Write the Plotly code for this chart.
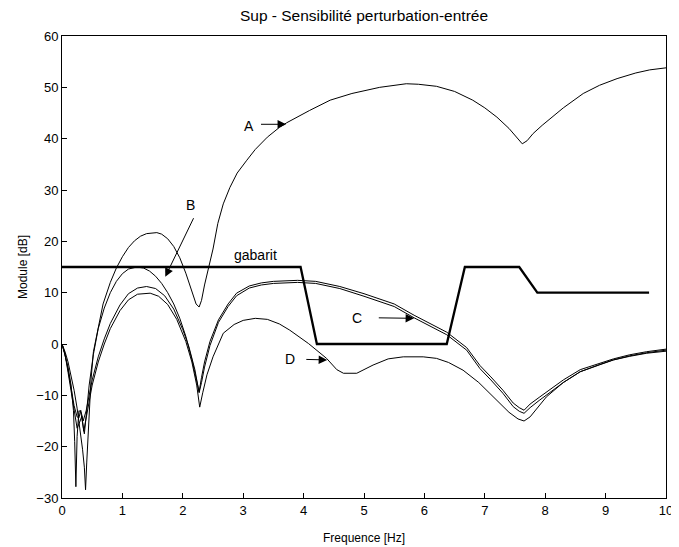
import plotly.graph_objects as go

# ---- data (frequency [Hz], module [dB]) ----
A_f = [0, 0.05, 0.1, 0.15, 0.2, 0.25, 0.3, 0.34, 0.37, 0.39, 0.41, 0.44, 0.48, 0.52, 0.6, 0.68, 0.8, 0.9, 1.0,
       1.1, 1.2, 1.3, 1.4, 1.5, 1.57, 1.65, 1.75, 1.85, 1.95, 2.05, 2.15, 2.22, 2.27, 2.31, 2.36, 2.42, 2.5,
       2.58, 2.67, 2.78, 2.9, 3.06, 3.2, 3.4, 3.6, 3.72, 3.9, 4.1, 4.44, 4.8, 5.26, 5.5, 5.7, 5.9, 6.2, 6.5,
       6.8, 7.0, 7.2, 7.4, 7.52, 7.62, 7.7, 7.8, 7.95, 8.08, 8.3, 8.63, 8.9, 9.19, 9.5, 9.73, 10]
A_db = [0, -1.5, -3.5, -6, -9, -12.5, -16.5, -20.5, -24, -28.4, -23, -15, -7, -1.5, 3.5, 7.8, 12, 14.8, 17,
        18.8, 20.1, 21, 21.5, 21.7, 21.7, 21.4, 20.5, 19, 16.8, 13.8, 10.2, 7.8, 7.2, 8.5, 11.5, 14.5, 18.5,
        23.5, 27.3, 30.5, 33.3, 35.8, 37.9, 40.3, 42.2, 43.1, 44.3, 45.5, 47.5, 48.8, 50, 50.4, 50.7, 50.6,
        50.2, 49.2, 47.5, 46, 44.2, 42, 40.3, 39, 39.6, 41, 42.6, 43.8, 46, 48.8, 50.4, 51.7, 52.8, 53.4, 53.8]

B_f = [0, 0.05, 0.1, 0.15, 0.19, 0.21, 0.23, 0.25, 0.28, 0.31, 0.34, 0.37, 0.4, 0.45, 0.52, 0.6, 0.7, 0.8,
       0.9, 1.0, 1.1, 1.24, 1.35, 1.45, 1.55, 1.65, 1.75, 1.85, 1.95, 2.05, 2.15, 2.22, 2.27, 2.31, 2.36,
       2.45, 2.59, 2.75, 2.89, 3.1, 3.3, 3.5, 3.9, 4.2, 4.6, 5.0, 5.26, 5.5, 5.83, 6.1, 6.37, 6.7, 6.92,
       7.1, 7.3, 7.47, 7.57, 7.65, 7.75, 7.9, 8.02, 8.3, 8.58, 8.9, 9.13, 9.4, 9.68, 10]
B_db = [0, -2, -4.5, -8, -13, -19, -27.8, -18, -13, -13.2, -15, -17.5, -14, -8, -2, 3, 7, 10, 12.2, 13.7,
        14.6, 15, 14.8, 14.2, 13.2, 11.8, 10, 7.8, 5, 1.5, -3, -6.5, -9.3, -6.5, -3.5, 0.5, 4.7, 7.8, 9.9,
        11.3, 11.9, 12.2, 12.4, 12.2, 11.2, 9.8, 8.8, 7.8, 5.6, 3.9, 2.3, -0.7, -4.2, -6.4, -9.0, -11.5,
        -12.4, -12.9, -11.7, -10.4, -9.4, -7, -5, -3.7, -2.9, -2.1, -1.5, -1.0]

C_f = [0, 0.05, 0.1, 0.15, 0.2, 0.25, 0.28, 0.31, 0.35, 0.4, 0.45, 0.5, 0.6, 0.7, 0.8, 0.96, 1.1, 1.25,
       1.4, 1.55, 1.7, 1.85, 2.0, 2.1, 2.2, 2.27, 2.31, 2.36, 2.45, 2.59, 2.75, 2.89, 3.1, 3.3, 3.5, 3.9,
       4.2, 4.6, 5.0, 5.26, 5.5, 5.83, 6.1, 6.37, 6.7, 6.92, 7.1, 7.3, 7.47, 7.57, 7.65, 7.75, 7.9, 8.02,
       8.3, 8.58, 8.9, 9.13, 9.4, 9.68, 10]
C_db = [0, -2, -5, -8.5, -12, -14.2, -14.4, -12.9, -15, -13, -10, -7, -2.5, 1, 4, 7.6, 9.8, 10.9, 11.2,
        10.8, 9.4, 6.8, 2.8, -0.5, -5, -9.5, -7.5, -4.5, -0.3, 4.2, 7.3, 9.4, 10.9, 11.5, 11.8, 12.0, 11.8,
        10.8, 9.3, 8.3, 7.3, 5.1, 3.4, 1.8, -1.2, -4.8, -7.0, -9.6, -12.2, -13.1, -13.5, -12.4, -11.0, -9.9,
        -7.5, -5.4, -4.0, -3.1, -2.3, -1.7, -1.2]

D_f = [0, 0.05, 0.1, 0.15, 0.2, 0.25, 0.3, 0.33, 0.36, 0.4, 0.45, 0.5, 0.6, 0.7, 0.8, 0.96, 1.1, 1.25,
       1.46, 1.6, 1.75, 1.9, 2.05, 2.15, 2.23, 2.28, 2.33, 2.4, 2.5, 2.67, 2.85, 3.0, 3.2, 3.4, 3.6, 3.77,
       4.08, 4.38, 4.55, 4.66, 4.88, 5.15, 5.4, 5.65, 5.98, 6.2, 6.4, 6.64, 6.9, 7.2, 7.4, 7.55, 7.65,
       7.75, 7.9, 8.02, 8.3, 8.58, 8.9, 9.13, 9.4, 9.68, 10]
D_db = [0, -2, -5.5, -9, -13, -16.4, -15, -14, -17, -14.5, -11, -8, -3.5, 0, 3, 6.5, 8.6, 9.7, 9.9, 9.3,
        7.7, 4.8, 0.5, -3.5, -8, -12.3, -9.5, -6, -2.5, 2.1, 3.8, 4.6, 5.0, 4.8, 3.9, 2.7, 0.1, -2.8, -5,
        -5.7, -5.7, -4.1, -2.9, -2.5, -2.5, -2.8, -3.6, -5.1, -7.5, -10.9, -13.3, -14.6, -15, -14.2, -12,
        -10.3, -7.5, -5.4, -4.0, -3.1, -2.4, -1.8, -1.4]

gab_f = [0, 3.95, 4.22, 6.37, 6.67, 7.57, 7.87, 9.72]
gab_db = [15, 15, 0, 0, 15, 15, 10, 10]

x_ticks = [0, 1, 2, 3, 4, 5, 6, 7, 8, 9, 10]
y_ticks = [-30, -20, -10, 0, 10, 20, 30, 40, 50, 60]

# labels: (text, x, y) and arrows: (tail x, tail y, tip x, tip y)
labels = [("A", 3.10, 42.5), ("B", 2.12, 27.1), ("C", 4.88, 5.0), ("D", 3.77, -2.9)]
arrows = [(3.27, 42.8, 3.71, 42.8), (2.19, 24.8, 1.71, 13.1), (5.22, 5.1, 5.83, 5.0), (4.02, -3.0, 4.39, -3.1)]
gab_label = ("gabarit", 3.2, 17.3)

FONT = "Liberation Sans, Arial, sans-serif"
W, H = 671, 539
L, R, T, B = 54, 13, 28, 49

fig = go.Figure()
for fx, fy in [(A_f, A_db), (B_f, B_db), (C_f, C_db), (D_f, D_db)]:
    fig.add_trace(go.Scatter(x=fx, y=fy, mode="lines", line=dict(color="black", width=1),
                             showlegend=False, hoverinfo="skip"))
fig.add_trace(go.Scatter(x=gab_f, y=gab_db, mode="lines", line=dict(color="black", width=2.3),
                         showlegend=False, hoverinfo="skip"))

ann = []
for t, x, y in labels:
    ann.append(dict(text=t, x=x, y=y, xref="x", yref="y", showarrow=False,
                    font=dict(family=FONT, size=14, color="black")))
ann.append(dict(text=gab_label[0], x=gab_label[1], y=gab_label[2], xref="x", yref="y", showarrow=False,
                font=dict(family=FONT, size=14, color="black")))
for tx, ty, hx, hy in arrows:
    ann.append(dict(text="", x=hx, y=hy, ax=tx, ay=ty, xref="x", yref="y", axref="x", ayref="y",
                    showarrow=True, arrowhead=2, arrowsize=1.7, arrowwidth=1, arrowcolor="black"))
# axis titles
ann.append(dict(text="Frequence [Hz]", x=0.5, y=0, xref="paper", yref="paper", yshift=-49,
                showarrow=False, font=dict(family=FONT, size=12, color="black")))
ann.append(dict(text="Module [dB]", x=0, y=0.5, xref="paper", yref="paper", xshift=-48, textangle=-90,
                showarrow=False, font=dict(family=FONT, size=12, color="black")))

fig.update_layout(
    width=W, height=H,
    margin=dict(l=L, r=R, t=T, b=B, autoexpand=False),
    paper_bgcolor="white", plot_bgcolor="white",
    title=dict(text="Sup - Sensibilité perturbation-entrée", x=(L + 302) / W, xanchor="center",
               y=1 - 8 / H, yanchor="middle", yref="container",
               font=dict(family=FONT, size=15.5, color="black")),
    annotations=ann,
    font=dict(family=FONT, color="black"),
)
fig.update_xaxes(range=[0, 10], tickvals=x_ticks, ticks="inside", ticklen=5, tickcolor="black",
                 showline=True, linecolor="black", linewidth=1, mirror=True, showgrid=False,
                 zeroline=False, automargin=False,
                 tickfont=dict(family=FONT, size=13, color="black"))
fig.update_yaxes(range=[-30, 60], tickvals=y_ticks, ticks="inside", ticklen=5, tickcolor="black",
                 showline=True, linecolor="black", linewidth=1, mirror=True, showgrid=False,
                 zeroline=False, automargin=False,
                 tickfont=dict(family=FONT, size=13, color="black"))

fig.write_html("out.html")
